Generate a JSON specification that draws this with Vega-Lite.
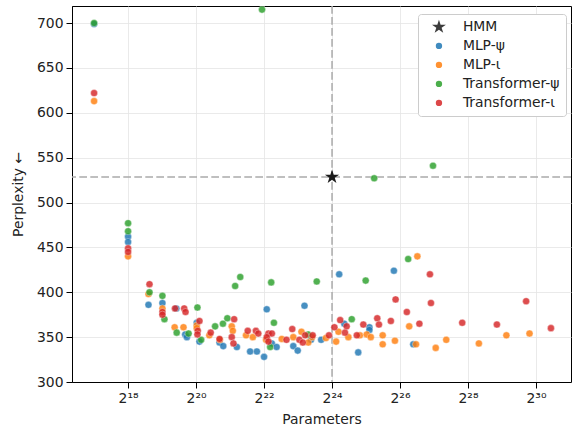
{
  "$schema": "https://vega.github.io/schema/vega-lite/v6.json",
  "width": 499,
  "height": 376,
  "autosize": {"type": "none"},
  "padding": {"left": 72, "top": 6, "right": 1, "bottom": 46},
  "background": "white",
  "config": {
    "font": "DejaVu Sans",
    "view": {"stroke": "black", "strokeWidth": 1},
    "axis": {
      "domainColor": "black",
      "tickColor": "black",
      "tickSize": 6,
      "gridColor": "#e4e4e4",
      "gridWidth": 0.8,
      "labelFont": "DejaVu Sans",
      "titleFont": "DejaVu Sans",
      "labelFontSize": 13.9,
      "titleFontSize": 13.9,
      "titleFontWeight": "normal",
      "labelColor": "#222",
      "titleColor": "#222"
    },
    "legend": {
      "labelFont": "DejaVu Sans",
      "labelFontSize": 13.9,
      "labelColor": "#222"
    }
  },
  "datasets": {
    "hmm": [
      {"model": "HMM", "log2_params": 24.0, "perplexity": 528.5}
    ],
    "runs": [
      {"model": "MLP-ψ", "log2_params": 17.0, "perplexity": 699},
      {"model": "MLP-ψ", "log2_params": 18.0, "perplexity": 462},
      {"model": "MLP-ψ", "log2_params": 18.0, "perplexity": 456},
      {"model": "MLP-ψ", "log2_params": 18.6, "perplexity": 386},
      {"model": "MLP-ψ", "log2_params": 19.01, "perplexity": 388},
      {"model": "MLP-ψ", "log2_params": 19.42, "perplexity": 382},
      {"model": "MLP-ψ", "log2_params": 19.68, "perplexity": 353},
      {"model": "MLP-ψ", "log2_params": 19.73, "perplexity": 350},
      {"model": "MLP-ψ", "log2_params": 20.02, "perplexity": 366},
      {"model": "MLP-ψ", "log2_params": 20.1, "perplexity": 345},
      {"model": "MLP-ψ", "log2_params": 20.69, "perplexity": 344},
      {"model": "MLP-ψ", "log2_params": 20.8, "perplexity": 340},
      {"model": "MLP-ψ", "log2_params": 21.2, "perplexity": 339},
      {"model": "MLP-ψ", "log2_params": 21.59, "perplexity": 334},
      {"model": "MLP-ψ", "log2_params": 21.79, "perplexity": 334},
      {"model": "MLP-ψ", "log2_params": 22.0, "perplexity": 328},
      {"model": "MLP-ψ", "log2_params": 22.08, "perplexity": 381},
      {"model": "MLP-ψ", "log2_params": 22.23, "perplexity": 343},
      {"model": "MLP-ψ", "log2_params": 22.37, "perplexity": 339},
      {"model": "MLP-ψ", "log2_params": 22.86, "perplexity": 340},
      {"model": "MLP-ψ", "log2_params": 22.99, "perplexity": 335},
      {"model": "MLP-ψ", "log2_params": 23.19, "perplexity": 385},
      {"model": "MLP-ψ", "log2_params": 23.38, "perplexity": 347},
      {"model": "MLP-ψ", "log2_params": 23.68, "perplexity": 347},
      {"model": "MLP-ψ", "log2_params": 24.21, "perplexity": 420},
      {"model": "MLP-ψ", "log2_params": 24.36, "perplexity": 365},
      {"model": "MLP-ψ", "log2_params": 24.77, "perplexity": 333},
      {"model": "MLP-ψ", "log2_params": 25.1, "perplexity": 361},
      {"model": "MLP-ψ", "log2_params": 25.1, "perplexity": 358},
      {"model": "MLP-ψ", "log2_params": 25.82, "perplexity": 424},
      {"model": "MLP-ψ", "log2_params": 26.39, "perplexity": 342},

      {"model": "MLP-ι", "log2_params": 17.0, "perplexity": 613},
      {"model": "MLP-ι", "log2_params": 18.0, "perplexity": 440},
      {"model": "MLP-ι", "log2_params": 18.6, "perplexity": 398},
      {"model": "MLP-ι", "log2_params": 19.01, "perplexity": 382},
      {"model": "MLP-ι", "log2_params": 19.37, "perplexity": 361},
      {"model": "MLP-ι", "log2_params": 19.63, "perplexity": 361},
      {"model": "MLP-ι", "log2_params": 20.02, "perplexity": 363},
      {"model": "MLP-ι", "log2_params": 20.02, "perplexity": 360},
      {"model": "MLP-ι", "log2_params": 20.39, "perplexity": 352},
      {"model": "MLP-ι", "log2_params": 20.7, "perplexity": 347},
      {"model": "MLP-ι", "log2_params": 21.05, "perplexity": 362},
      {"model": "MLP-ι", "log2_params": 21.08, "perplexity": 357},
      {"model": "MLP-ι", "log2_params": 21.47, "perplexity": 352},
      {"model": "MLP-ι", "log2_params": 21.67, "perplexity": 350},
      {"model": "MLP-ι", "log2_params": 22.06, "perplexity": 347},
      {"model": "MLP-ι", "log2_params": 22.52, "perplexity": 348},
      {"model": "MLP-ι", "log2_params": 22.86, "perplexity": 350},
      {"model": "MLP-ι", "log2_params": 23.1, "perplexity": 356},
      {"model": "MLP-ι", "log2_params": 23.3, "perplexity": 344},
      {"model": "MLP-ι", "log2_params": 23.41, "perplexity": 350},
      {"model": "MLP-ι", "log2_params": 23.82, "perplexity": 349},
      {"model": "MLP-ι", "log2_params": 24.12, "perplexity": 345},
      {"model": "MLP-ι", "log2_params": 24.19, "perplexity": 356},
      {"model": "MLP-ι", "log2_params": 24.48, "perplexity": 350},
      {"model": "MLP-ι", "log2_params": 24.82, "perplexity": 352},
      {"model": "MLP-ι", "log2_params": 25.02, "perplexity": 353},
      {"model": "MLP-ι", "log2_params": 25.14, "perplexity": 350},
      {"model": "MLP-ι", "log2_params": 25.49, "perplexity": 352},
      {"model": "MLP-ι", "log2_params": 25.49, "perplexity": 342},
      {"model": "MLP-ι", "log2_params": 25.85, "perplexity": 346},
      {"model": "MLP-ι", "log2_params": 26.27, "perplexity": 362},
      {"model": "MLP-ι", "log2_params": 26.51, "perplexity": 440},
      {"model": "MLP-ι", "log2_params": 26.47, "perplexity": 342},
      {"model": "MLP-ι", "log2_params": 27.05, "perplexity": 338},
      {"model": "MLP-ι", "log2_params": 27.36, "perplexity": 347},
      {"model": "MLP-ι", "log2_params": 28.32, "perplexity": 343},
      {"model": "MLP-ι", "log2_params": 29.13, "perplexity": 352},
      {"model": "MLP-ι", "log2_params": 29.81, "perplexity": 354},

      {"model": "Transformer-ψ", "log2_params": 17.0, "perplexity": 700},
      {"model": "Transformer-ψ", "log2_params": 18.0, "perplexity": 477},
      {"model": "Transformer-ψ", "log2_params": 18.0, "perplexity": 468},
      {"model": "Transformer-ψ", "log2_params": 18.63, "perplexity": 400},
      {"model": "Transformer-ψ", "log2_params": 19.01, "perplexity": 396},
      {"model": "Transformer-ψ", "log2_params": 19.07, "perplexity": 370},
      {"model": "Transformer-ψ", "log2_params": 19.43, "perplexity": 355},
      {"model": "Transformer-ψ", "log2_params": 19.78, "perplexity": 354},
      {"model": "Transformer-ψ", "log2_params": 20.04, "perplexity": 383},
      {"model": "Transformer-ψ", "log2_params": 20.15, "perplexity": 347},
      {"model": "Transformer-ψ", "log2_params": 20.56, "perplexity": 362},
      {"model": "Transformer-ψ", "log2_params": 20.79, "perplexity": 365},
      {"model": "Transformer-ψ", "log2_params": 20.92, "perplexity": 371},
      {"model": "Transformer-ψ", "log2_params": 21.15, "perplexity": 407},
      {"model": "Transformer-ψ", "log2_params": 21.3, "perplexity": 417},
      {"model": "Transformer-ψ", "log2_params": 21.94, "perplexity": 715},
      {"model": "Transformer-ψ", "log2_params": 22.21, "perplexity": 411},
      {"model": "Transformer-ψ", "log2_params": 22.29, "perplexity": 366},
      {"model": "Transformer-ψ", "log2_params": 22.18, "perplexity": 339},
      {"model": "Transformer-ψ", "log2_params": 23.3, "perplexity": 353},
      {"model": "Transformer-ψ", "log2_params": 23.55, "perplexity": 412},
      {"model": "Transformer-ψ", "log2_params": 24.58, "perplexity": 370},
      {"model": "Transformer-ψ", "log2_params": 24.99, "perplexity": 413},
      {"model": "Transformer-ψ", "log2_params": 25.24, "perplexity": 527},
      {"model": "Transformer-ψ", "log2_params": 26.24, "perplexity": 437},
      {"model": "Transformer-ψ", "log2_params": 26.97, "perplexity": 541},

      {"model": "Transformer-ι", "log2_params": 17.0, "perplexity": 622},
      {"model": "Transformer-ι", "log2_params": 18.0, "perplexity": 449},
      {"model": "Transformer-ι", "log2_params": 18.0, "perplexity": 445},
      {"model": "Transformer-ι", "log2_params": 18.63, "perplexity": 409},
      {"model": "Transformer-ι", "log2_params": 19.01, "perplexity": 378},
      {"model": "Transformer-ι", "log2_params": 19.01, "perplexity": 375},
      {"model": "Transformer-ι", "log2_params": 19.38, "perplexity": 382},
      {"model": "Transformer-ι", "log2_params": 19.65, "perplexity": 382},
      {"model": "Transformer-ι", "log2_params": 19.69, "perplexity": 378},
      {"model": "Transformer-ι", "log2_params": 20.1, "perplexity": 368},
      {"model": "Transformer-ι", "log2_params": 20.05, "perplexity": 357},
      {"model": "Transformer-ι", "log2_params": 20.04, "perplexity": 353},
      {"model": "Transformer-ι", "log2_params": 20.43, "perplexity": 355},
      {"model": "Transformer-ι", "log2_params": 20.69, "perplexity": 348},
      {"model": "Transformer-ι", "log2_params": 21.12, "perplexity": 370},
      {"model": "Transformer-ι", "log2_params": 21.05, "perplexity": 350},
      {"model": "Transformer-ι", "log2_params": 21.1, "perplexity": 343},
      {"model": "Transformer-ι", "log2_params": 21.52, "perplexity": 357},
      {"model": "Transformer-ι", "log2_params": 21.76, "perplexity": 357},
      {"model": "Transformer-ι", "log2_params": 21.83, "perplexity": 354},
      {"model": "Transformer-ι", "log2_params": 22.13, "perplexity": 354},
      {"model": "Transformer-ι", "log2_params": 22.23, "perplexity": 354},
      {"model": "Transformer-ι", "log2_params": 22.08, "perplexity": 350},
      {"model": "Transformer-ι", "log2_params": 22.13, "perplexity": 345},
      {"model": "Transformer-ι", "log2_params": 22.66, "perplexity": 347},
      {"model": "Transformer-ι", "log2_params": 22.83, "perplexity": 359},
      {"model": "Transformer-ι", "log2_params": 23.04, "perplexity": 347},
      {"model": "Transformer-ι", "log2_params": 23.14, "perplexity": 344},
      {"model": "Transformer-ι", "log2_params": 23.21, "perplexity": 352},
      {"model": "Transformer-ι", "log2_params": 23.43, "perplexity": 352},
      {"model": "Transformer-ι", "log2_params": 23.91, "perplexity": 352},
      {"model": "Transformer-ι", "log2_params": 24.07, "perplexity": 361},
      {"model": "Transformer-ι", "log2_params": 24.24, "perplexity": 369},
      {"model": "Transformer-ι", "log2_params": 24.43, "perplexity": 362},
      {"model": "Transformer-ι", "log2_params": 24.38, "perplexity": 355},
      {"model": "Transformer-ι", "log2_params": 24.73, "perplexity": 352},
      {"model": "Transformer-ι", "log2_params": 24.92, "perplexity": 364},
      {"model": "Transformer-ι", "log2_params": 25.33, "perplexity": 371},
      {"model": "Transformer-ι", "log2_params": 25.38, "perplexity": 364},
      {"model": "Transformer-ι", "log2_params": 25.73, "perplexity": 368},
      {"model": "Transformer-ι", "log2_params": 25.87, "perplexity": 392},
      {"model": "Transformer-ι", "log2_params": 26.2, "perplexity": 378},
      {"model": "Transformer-ι", "log2_params": 26.57, "perplexity": 365},
      {"model": "Transformer-ι", "log2_params": 26.88, "perplexity": 420},
      {"model": "Transformer-ι", "log2_params": 26.91, "perplexity": 388},
      {"model": "Transformer-ι", "log2_params": 27.83, "perplexity": 366},
      {"model": "Transformer-ι", "log2_params": 28.85, "perplexity": 364},
      {"model": "Transformer-ι", "log2_params": 29.71, "perplexity": 390},
      {"model": "Transformer-ι", "log2_params": 30.44, "perplexity": 360}
    ]
  },
  "layer": [
    {
      "data": {"name": "hmm"},
      "mark": {"type": "rule", "color": "#aaaaaa", "strokeWidth": 1.5, "strokeDash": [7.7, 3.3]},
      "encoding": {
        "x": {
          "field": "log2_params",
          "type": "quantitative",
          "scale": {"domain": [16.35, 31.03], "nice": false, "zero": false},
          "axis": {
            "title": "Parameters",
            "values": [18, 20, 22, 24, 26, 28, 30],
            "labelExpr": "'2' + (datum.value == 18 ? '¹⁸' : datum.value == 20 ? '²⁰' : datum.value == 22 ? '²²' : datum.value == 24 ? '²⁴' : datum.value == 26 ? '²⁶' : datum.value == 28 ? '²⁸' : '³⁰')",
            "labelPadding": 3,
            "titlePadding": 8
          }
        }
      }
    },
    {
      "data": {"name": "hmm"},
      "mark": {"type": "rule", "color": "#aaaaaa", "strokeWidth": 1.5, "strokeDash": [7.7, 3.3]},
      "encoding": {
        "y": {
          "field": "perplexity",
          "type": "quantitative",
          "scale": {"domain": [300, 719], "nice": false, "zero": false},
          "axis": {
            "title": "Perplexity ←",
            "values": [300, 350, 400, 450, 500, 550, 600, 650, 700],
            "labelPadding": 3,
            "titlePadding": 11
          }
        }
      }
    },
    {
      "data": {"name": "runs"},
      "mark": {"type": "point", "filled": true, "opacity": 0.82, "size": 50, "stroke": "white", "strokeWidth": 0.4},
      "encoding": {
        "x": {"field": "log2_params", "type": "quantitative"},
        "y": {"field": "perplexity", "type": "quantitative"},
        "color": {
          "field": "model",
          "type": "nominal",
          "scale": {
            "domain": ["HMM", "MLP-ψ", "MLP-ι", "Transformer-ψ", "Transformer-ι"],
            "range": ["#1a1a1a", "#1f77b4", "#ff7f0e", "#2ca02c", "#d62728"]
          },
          "legend": {
            "title": null,
            "orient": "none",
            "legendX": 346,
            "legendY": 8,
            "padding": 6,
            "rowPadding": 4,
            "symbolOffset": 8,
            "symbolSize": 40,
            "symbolOpacity": 0.85,
            "symbolStrokeWidth": 0,
            "strokeColor": "#cccccc",
            "fillColor": "white",
            "cornerRadius": 3,
            "labelOffset": 17
          }
        },
        "shape": {
          "field": "model",
          "type": "nominal",
          "scale": {
            "domain": ["HMM", "MLP-ψ", "MLP-ι", "Transformer-ψ", "Transformer-ι"],
            "range": ["M0,-2.3L0.516,-0.711L2.188,-0.711L0.836,0.271L1.352,1.861L0,0.879L-1.352,1.861L-0.836,0.271L-2.188,-0.711L-0.516,-0.711Z", "circle", "circle", "circle", "circle"]
          }
        }
      }
    },
    {
      "data": {"name": "hmm"},
      "mark": {"type": "point", "filled": true, "opacity": 1, "size": 42},
      "encoding": {
        "x": {"field": "log2_params", "type": "quantitative"},
        "y": {"field": "perplexity", "type": "quantitative"},
        "color": {"field": "model", "type": "nominal"},
        "shape": {"field": "model", "type": "nominal"}
      }
    }
  ]
}
